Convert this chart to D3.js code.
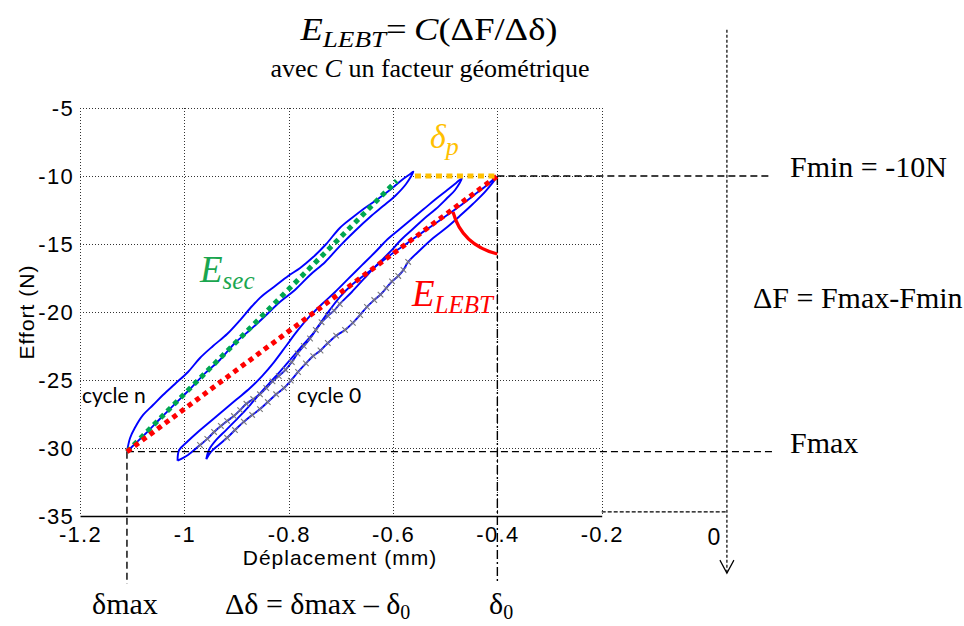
<!DOCTYPE html>
<html><head><meta charset="utf-8">
<script src="https://cdn.jsdelivr.net/npm/d3@7"></script>
<style>body{margin:0;background:#fff}svg{display:block}</style>
</head><body>
<svg id="c" width="964" height="626"></svg>
<script>
// ---------- data ----------
const xTicks = [-1.2, -1, -0.8, -0.6, -0.4, -0.2];
const yTicks = [-5, -10, -15, -20, -25, -30, -35];

// cycle n (leftmost loop)
const cycleN_upper = [[-1.110,-30.27],[-1.104,-29.26],[-1.095,-28.53],[-1.079,-27.57],[-1.060,-26.84],[-1.041,-26.10],[-1.018,-25.29],[-0.993,-24.41],[-0.970,-23.38],[-0.945,-22.50],[-0.918,-21.62],[-0.893,-20.59],[-0.870,-19.56],[-0.851,-18.82],[-0.826,-18.09],[-0.801,-17.35],[-0.778,-16.76],[-0.753,-15.96],[-0.728,-15.00],[-0.702,-13.82],[-0.679,-13.09],[-0.654,-12.35],[-0.629,-11.69],[-0.606,-11.03],[-0.583,-10.29],[-0.567,-9.85],[-0.561,-9.68]];
const cycleN_lower = [[-0.561,-9.68],[-0.575,-10.59],[-0.596,-11.47],[-0.619,-12.21],[-0.644,-13.01],[-0.673,-14.04],[-0.702,-15.15],[-0.730,-16.32],[-0.759,-17.28],[-0.788,-18.38],[-0.817,-19.26],[-0.845,-20.29],[-0.874,-21.32],[-0.903,-22.28],[-0.932,-23.53],[-0.960,-24.49],[-0.989,-25.66],[-1.018,-26.76],[-1.047,-27.87],[-1.075,-28.97],[-1.095,-29.71],[-1.110,-30.27]];
// intermediate cycle
const cycle1_upper = [[-1.013,-30.93],[-1.010,-30.15],[-0.995,-29.56],[-0.974,-28.82],[-0.949,-28.01],[-0.924,-27.21],[-0.899,-26.40],[-0.874,-25.59],[-0.851,-24.71],[-0.828,-23.68],[-0.805,-22.50],[-0.782,-21.32],[-0.759,-20.29],[-0.736,-19.41],[-0.711,-18.53],[-0.686,-17.57],[-0.659,-16.54],[-0.634,-15.59],[-0.610,-14.63],[-0.587,-13.90],[-0.564,-13.16],[-0.541,-12.43],[-0.518,-11.69],[-0.496,-11.03],[-0.479,-10.51],[-0.468,-10.17]];
const cycle1_lower = [[-0.468,-10.17],[-0.481,-11.03],[-0.498,-11.69],[-0.518,-12.43],[-0.541,-13.16],[-0.562,-13.90],[-0.583,-14.63],[-0.606,-15.59],[-0.631,-16.54],[-0.656,-17.57],[-0.679,-18.53],[-0.702,-19.41],[-0.713,-19.90],[-0.725,-20.29],[-0.737,-20.75],[-0.748,-21.32],[-0.759,-21.95],[-0.771,-22.50],[-0.783,-23.05],[-0.794,-23.68],[-0.806,-24.25],[-0.819,-24.71],[-0.831,-25.10],[-0.843,-25.59],[-0.855,-26.05],[-0.868,-26.40],[-0.881,-26.75],[-0.893,-27.21],[-0.905,-27.65],[-0.918,-28.01],[-0.930,-28.38],[-0.943,-28.82],[-0.956,-29.33],[-0.970,-29.78],[-0.993,-30.51],[-1.013,-30.93]];
// cycle 0 (rightmost loop)
const cycle0_upper = [[-0.958,-30.83],[-0.953,-30.15],[-0.939,-29.41],[-0.920,-28.68],[-0.897,-27.79],[-0.874,-26.84],[-0.851,-25.81],[-0.826,-24.78],[-0.801,-23.68],[-0.776,-22.57],[-0.751,-21.47],[-0.727,-20.15],[-0.702,-18.90],[-0.677,-17.94],[-0.652,-17.21],[-0.625,-16.40],[-0.600,-15.66],[-0.575,-15.00],[-0.548,-14.26],[-0.523,-13.60],[-0.496,-12.87],[-0.472,-12.21],[-0.447,-11.47],[-0.422,-10.74],[-0.401,-10.04]];
const cycle0_lower = [[-0.401,-10.04],[-0.422,-11.10],[-0.447,-12.06],[-0.472,-12.94],[-0.496,-13.75],[-0.523,-14.56],[-0.548,-15.44],[-0.571,-16.32],[-0.580,-16.90],[-0.590,-17.35],[-0.602,-17.75],[-0.613,-18.24],[-0.624,-18.72],[-0.636,-19.12],[-0.650,-19.62],[-0.663,-20.22],[-0.677,-20.80],[-0.692,-21.32],[-0.709,-21.74],[-0.725,-22.28],[-0.739,-22.83],[-0.753,-23.24],[-0.767,-23.78],[-0.782,-24.41],[-0.796,-25.05],[-0.809,-25.59],[-0.824,-26.05],[-0.840,-26.62],[-0.855,-27.14],[-0.870,-27.57],[-0.886,-28.07],[-0.903,-28.68],[-0.918,-29.25],[-0.932,-29.71],[-0.949,-30.29],[-0.958,-30.83]];
// x-range of the raw-data cross markers on the lower branches
const markRange1 = [-0.97, -0.70];
const markRange0 = [-0.93, -0.57];

const Fmin = -10, Fmax = -30.27, dMax = -1.110, d0 = -0.400;
const secLine  = [[-1.110,-30.27],[-0.593,-10.35]];
const lebtLine = [[-1.110,-30.27],[-0.400,-10.0]];
const deltaP   = [[-0.558,-10.0],[-0.401,-10.0]];
const arcPts   = [[-0.485,-12.65],[-0.468,-15.07],[-0.400,-15.74]]; // start, control, end
const annRight = 0.127;   // end of Fmin/Fmax guide lines
const arrowX = 0.040;     // vertical arrow guide
const arrowTop = 0.75, guideBottom = -40, arrowBottom = -39.2;
const baseGuideY = -34.7;

// ---------- drawing ----------
const svg = d3.select('#c');
const x = d3.scaleLinear().domain([-1.2, -0.2]).range([80, 601.7]);
const y = d3.scaleLinear().domain([-35, -5]).range([516, 108]);
const SANS = "'Liberation Sans', Arial, sans-serif";
const SERIF = "'Liberation Serif', 'Times New Roman', serif";

// grid (dotted)
const grid = svg.append('g').attr('stroke', '#333').attr('stroke-width', 1)
  .attr('stroke-dasharray', '1,2').attr('shape-rendering', 'crispEdges');
grid.selectAll('line.v').data(xTicks).join('line').attr('class','v')
  .attr('x1', d => Math.round(x(d)) + 0.5).attr('x2', d => Math.round(x(d)) + 0.5)
  .attr('y1', y(-5)).attr('y2', y(-35));
grid.selectAll('line.h').data(yTicks.filter(d => d !== -35)).join('line').attr('class','h')
  .attr('y1', d => Math.round(y(d)) + 0.5).attr('y2', d => Math.round(y(d)) + 0.5)
  .attr('x1', x(-1.2)).attr('x2', x(-0.2));

// axes
const fmt = d => String(d);
const gx = svg.append('g').attr('transform', `translate(0,${y(-35)})`)
  .call(d3.axisBottom(x).tickValues(xTicks).tickFormat(fmt).tickSize(0).tickSizeOuter(0));
gx.select('.domain').attr('stroke', '#000').attr('stroke-width', 1.6);
gx.selectAll('text').attr('dy', null).attr('y', 26)
  .style('font-family', SANS).attr('font-size', 22).attr('letter-spacing', '1.3px').attr('fill', '#000');
const gy = svg.append('g').attr('transform', `translate(${x(-1.2)},0)`)
  .call(d3.axisLeft(y).tickValues(yTicks).tickFormat(fmt).tickSize(0).tickPadding(6));
gy.select('.domain').remove();
gy.selectAll('text').style('font-family', SANS).attr('font-size', 22).attr('letter-spacing', '1.3px').attr('fill', '#000');

svg.append('text').attr('x', 340).attr('y', 565).attr('text-anchor', 'middle')
  .style('font-family', SANS).attr('font-size', 21).attr('letter-spacing', '1px').text('Déplacement (mm)');
svg.append('text').attr('transform', 'translate(34,312) rotate(-90)').attr('text-anchor', 'middle')
  .style('font-family', SANS).attr('font-size', 21).attr('letter-spacing', '1px').text('Effort (N)');

// loops
const line = d3.line().x(d => x(d[0])).y(d => y(d[1])).curve(d3.curveCatmullRom.alpha(0.5));
const loops = [
  cycleN_upper.concat(cycleN_lower.slice(1)),
  cycle1_upper.concat(cycle1_lower.slice(1)),
  cycle0_upper.concat(cycle0_lower.slice(1))
];
svg.append('g').selectAll('path').data(loops).join('path')
  .attr('d', line).attr('fill', 'none').attr('stroke', '#0000ff').attr('stroke-width', 1.9);

// cross markers
const marks = cycle1_lower.filter(d => d[0] >= markRange1[0] && d[0] <= markRange1[1])
  .concat(cycle0_lower.filter(d => d[0] >= markRange0[0] && d[0] <= markRange0[1]));
svg.append('g').selectAll('path').data(marks).join('path')
  .attr('transform', d => `translate(${x(d[0])},${y(d[1])})`)
  .attr('d', d3.symbol(d3.symbolTimes, 22)).attr('fill', 'none').attr('stroke', '#7a7a7a').attr('stroke-width', 1.1);

// guide lines
const guides = svg.append('g').attr('fill', 'none').attr('stroke', '#000').attr('stroke-width', 1.4);
guides.append('line').attr('x1', x(d0)).attr('x2', x(annRight)).attr('y1', y(Fmin)).attr('y2', y(Fmin)).attr('stroke-dasharray', '7,4');
guides.append('line').attr('x1', x(dMax)).attr('x2', x(annRight)).attr('y1', y(Fmax)).attr('y2', y(Fmax)).attr('stroke-dasharray', '7,4');
guides.append('line').attr('x1', x(dMax)).attr('x2', x(dMax)).attr('y1', y(Fmax)).attr('y2', y(guideBottom)).attr('stroke-dasharray', '7,4');
guides.append('line').attr('x1', x(d0)).attr('x2', x(d0)).attr('y1', y(Fmin)).attr('y2', y(guideBottom)).attr('stroke-dasharray', '9,3,2,3');
guides.append('line').attr('x1', x(-0.2)).attr('x2', x(arrowX)).attr('y1', y(baseGuideY)).attr('y2', y(baseGuideY)).attr('stroke-dasharray', '4,2').attr('stroke-width', 1.2);
guides.append('line').attr('x1', x(arrowX)).attr('x2', x(arrowX)).attr('y1', y(arrowTop)).attr('y2', y(arrowBottom)).attr('stroke-dasharray', '3,2').attr('stroke-width', 1.2);
guides.append('path').attr('stroke-width', 1.2)
  .attr('d', `M${x(arrowX)-7},${y(arrowBottom)-13}L${x(arrowX)},${y(arrowBottom)}L${x(arrowX)+7},${y(arrowBottom)-13}`);

// fitted lines
const straight = d3.line().x(d => x(d[0])).y(d => y(d[1]));
svg.append('path').attr('d', straight(secLine)).attr('stroke', '#00a651').attr('stroke-width', 5).attr('stroke-dasharray', '5,4.5').attr('fill','none');
svg.append('path').attr('d', straight(lebtLine)).attr('stroke', '#ff0000').attr('stroke-width', 5).attr('stroke-dasharray', '5,4.5').attr('fill','none');
svg.append('path').attr('d', straight(deltaP)).attr('stroke', '#ffc000').attr('stroke-width', 5).attr('stroke-dasharray', '6,4.5').attr('fill','none');
svg.append('path').attr('fill', 'none').attr('stroke', '#ff0000').attr('stroke-width', 3.2)
  .attr('d', `M${x(arcPts[0][0])},${y(arcPts[0][1])}Q${x(arcPts[1][0])},${y(arcPts[1][1])} ${x(arcPts[2][0])},${y(arcPts[2][1])}`);

// ---------- texts ----------
const title = svg.append('g').attr('transform', 'translate(429,40) scale(1.18,1)')
  .append('text').attr('text-anchor', 'middle').style('font-family', SERIF).attr('font-size', 31);
title.append('tspan').attr('font-style', 'italic').text('E');
title.append('tspan').attr('font-style', 'italic').attr('font-size', 23).attr('dy', 7).text('LEBT');
title.append('tspan').attr('dy', -7).text('=\u2009');
title.append('tspan').attr('font-style', 'italic').text('C');
title.append('tspan').text('(ΔF/Δδ)');

const sub = svg.append('text').attr('x', 430).attr('y', 77).attr('text-anchor', 'middle')
  .style('font-family', SERIF).attr('font-size', 26);
sub.append('tspan').text('avec ');
sub.append('tspan').attr('font-style', 'italic').text('C');
sub.append('tspan').text(' un facteur géométrique');

function subLabel(xp, yp, main, subs, color, s1, s2, dy) {
  const t = svg.append('text').attr('x', xp).attr('y', yp).style('font-family', SERIF)
    .attr('font-style', 'italic').attr('fill', color).attr('font-size', s1);
  t.append('tspan').text(main);
  t.append('tspan').attr('font-size', s2).attr('dy', dy).text(subs);
}
subLabel(200, 282, 'E', 'sec', '#1aa64f', 37, 25, 7);
subLabel(412, 306, 'E', 'LEBT', '#ff0000', 37, 25, 7);
subLabel(430, 148, 'δ', 'p', '#ffc000', 34, 26, 7);

function serifText(xp, yp, parts, size) {
  const t = svg.append('text').attr('x', xp).attr('y', yp).style('font-family', SERIF).attr('font-size', size || 30);
  parts.forEach(p => {
    const s = t.append('tspan').text(p[0]);
    if (p[1]) s.attr('font-size', 20).attr('dy', 5);
  });
  return t;
}
serifText(790, 177, [['Fmin = -10N']]);
serifText(753, 308, [['ΔF = Fmax-Fmin']]);
serifText(790, 453, [['Fmax']]);
serifText(92, 614, [['δmax']]);
serifText(225, 614, [['Δδ = δmax – δ'], ['0', true]]);
serifText(489, 614, [['δ'], ['0', true]]);

svg.append('text').attr('x', 714).attr('y', 545).attr('text-anchor', 'middle')
  .style('font-family', SANS).attr('font-size', 23).text('0');

const CAL = "Lato, 'Open Sans', sans-serif";
svg.append('text').attr('x', 82).attr('y', 403).style('font-family', CAL).attr('font-size', 21).text('cycle n');
svg.append('text').attr('x', 297).attr('y', 403).style('font-family', CAL).attr('font-size', 21).text('cycle 0');
</script>
</body></html>
